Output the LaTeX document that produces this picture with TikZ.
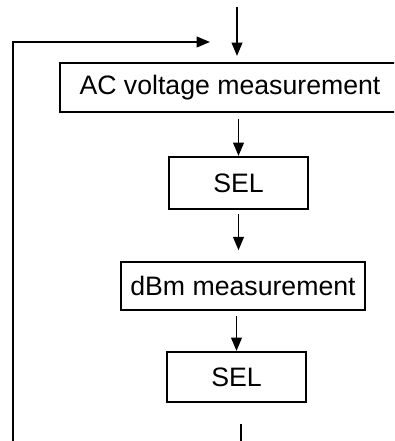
\documentclass[tikz,border=0pt]{standalone}
\usepackage{fontspec}
\setmainfont{Liberation Sans}
\usetikzlibrary{arrows.meta,positioning,calc}
\tikzset{
  blk/.style = {draw, line width=1.6pt, inner sep=0pt,
                font=\fontsize{20}{24}\selectfont},
  e/.style   = {-{Triangle[length=10pt,width=8pt]}, line width=1.4pt},
  ln/.style  = {line width=1.4pt}
}

\begin{document}
\begin{tikzpicture}[x=0.75pt,y=-0.75pt]
  \useasboundingbox (0,0) rectangle (394,441);
  \clip (0,0) rectangle (394,441);
  \node[blk, minimum width=255pt, minimum height=36.75pt] (ac)   at (230,87.5) {AC voltage measurement};
  \node[blk, minimum width=104.25pt, minimum height=39pt]  (sel1) at (238.5,183) {SEL};
  \node[blk, minimum width=183pt, minimum height=36pt]     (dbm)  at (243,286) {dBm measurement};
  \node[blk, minimum width=104.25pt, minimum height=37.5pt] (sel2) at (236.5,377) {SEL};
  \coordinate (in)  at (237,7);
  \coordinate (out) at (241,441);
  \coordinate (fb)  at (13,441);
  \coordinate (fbend) at (210,42);
  \draw[e, shorten >=4.5pt] (in) -- (in |- ac.north);
  \draw[e, shorten <=4.5pt] (ac.south -| sel1) -- (sel1);
  \draw[e, shorten <=3pt, shorten >=8pt] (sel1.south) -- (sel1.south |- dbm.north);
  \draw[e, shorten <=3.75pt] (sel2 |- dbm.south) -- (sel2);
  \draw[ln, shorten <=15.75pt] (out |- sel2.south) -- (out);
  \draw[e] (fb) |- (fbend);
\end{tikzpicture}
\end{document}
